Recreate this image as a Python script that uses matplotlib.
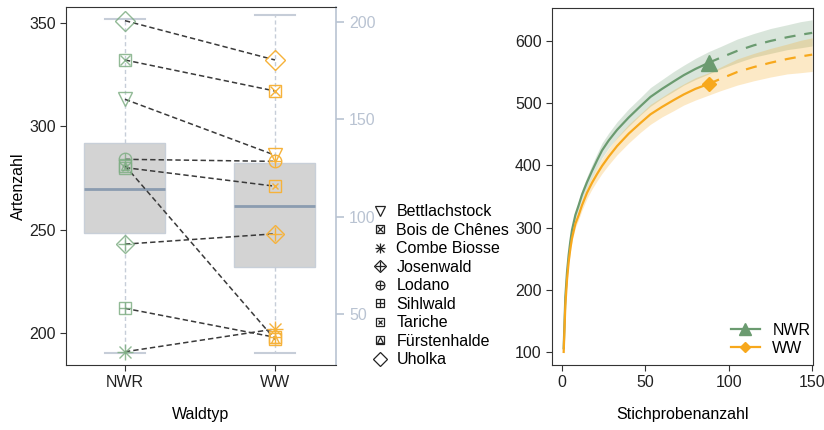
import matplotlib
matplotlib.use("Agg")
import matplotlib.pyplot as plt
from matplotlib.lines import Line2D
import numpy as np

plt.rcParams['font.family'] = ['Liberation Sans', 'DejaVu Sans']

# ---------------- data ----------------
sites = ["Bettlachstock", "Bois de Chênes", "Combe Biosse", "Josenwald", "Lodano",
         "Sihlwald", "Tariche", "Fürstenhalde", "Uholka"]
nwr_vals = [313, 332, 191, 243, 284, 212, 280, 281, 351]
ww_vals = [286, 317, 202, 248, 283, 198, 271, 197, 332]
groups = ["NWR", "WW"]

# boxplot stats (secondary axis)
box_q1 = [91.7, 74.2]
box_med = [114.3, 105.5]
box_q3 = [137.9, 127.6]
box_lo = [30, 30]
box_hi = [201.5, 203.6]

# rarefaction / extrapolation
obs_x = [1, 2, 3, 4, 5, 6, 8, 10, 12, 15, 18, 21, 24, 28, 33, 40, 47, 53, 60, 67, 73, 80, 88]
nwr_obs = [106, 188, 228, 256, 278, 296, 320, 336, 353, 373, 391, 408, 424, 440, 457, 477,
           495, 510, 523, 535, 545, 555, 565]
ww_obs = [100, 175, 216, 245, 266, 283, 306, 320, 336, 356, 372, 386, 399, 414, 431, 451,
          468, 482, 494, 505, 514, 523, 531]
nwr_obs_hw = [2, 3, 4, 4, 5, 5, 6, 7, 8, 9, 10, 11, 12, 12, 13, 14, 14, 15, 15, 16, 16, 17, 18]
ww_obs_hw = [2, 3, 4, 4, 5, 5, 6, 7, 8, 9, 10, 11, 12, 13, 14, 15, 15, 16, 16, 17, 17, 18, 18]

ext_x = [88, 95, 105, 115, 125, 135, 143, 150]
nwr_ext = [565, 573, 584, 593, 600, 606, 610, 613]
ww_ext = [531, 539, 550, 558, 565, 571, 575, 578]
nwr_ext_hw = [18, 18, 19, 19, 20, 20, 21, 21]
ww_ext_hw = [18, 19, 21, 22, 23, 24, 26, 27]

# ---------------- styles ----------------
GREEN = "#6b9b70"
GREEN_L = "#7fae84"
ORANGE = "#f7a81c"
ORANGE_L = "#f6b23a"
AXBLUE = "#b9c3d2"
FS = 11.5

mk = {
    "Bettlachstock": [("v", 10)],
    "Bois de Chênes": [("s", 9), ("x", 7)],
    "Combe Biosse": [("+", 11), ("x", 8)],
    "Josenwald": [("D", 9), ("+", 10)],
    "Lodano": [("o", 9), ("+", 9)],
    "Sihlwald": [("s", 9), ("+", 9)],
    "Tariche": [("s", 9), ("x", 5)],
    "Fürstenhalde": [("s", 9), ("^", 6)],
    "Uholka": [("D", 10)],
}

fig = plt.figure(figsize=(8.24, 4.3), dpi=100)

# ---------------- left panel ----------------
ax = fig.add_axes([66/824, 1-365/430, 270/824, 358/430])
ax2 = ax.twinx()
ax.set_zorder(ax2.get_zorder() + 1)
ax.patch.set_visible(False)

stats = []
for i in range(2):
    stats.append(dict(med=box_med[i], q1=box_q1[i], q3=box_q3[i],
                      whislo=box_lo[i], whishi=box_hi[i], fliers=[]))
ax2.bxp(stats, positions=[1, 2], widths=0.54, patch_artist=True, capwidths=0.27,
        boxprops=dict(facecolor="#d3d3d3", edgecolor="#c8cfd8", linewidth=1),
        medianprops=dict(color="#8b9cb0", linewidth=2),
        whiskerprops=dict(color="#c6cdd8", linestyle=(0, (3, 2)), linewidth=1),
        capprops=dict(color="#c6cdd8", linewidth=1.5))
ax2.set_ylim(23.9, 207.5)
ax2.set_yticks([50, 100, 150, 200])
ax2.tick_params(axis="y", colors=AXBLUE, labelsize=FS, length=6, width=1.2)
ax2.spines["right"].set_color(AXBLUE)
ax2.spines["right"].set_linewidth(1.2)
for s in ["left", "top", "bottom"]:
    ax2.spines[s].set_visible(False)

for i, site in enumerate(sites):
    ax.plot([1, 2], [nwr_vals[i], ww_vals[i]], color="#3a3a3a", lw=1.1,
            dashes=(3.5, 2), zorder=2)
    for (m, ms) in mk[site]:
        ax.plot([1], [nwr_vals[i]], linestyle="none", marker=m, markersize=ms,
                markerfacecolor="none", markeredgecolor=GREEN_L, markeredgewidth=1.0,
                alpha=0.85, zorder=3)
        ax.plot([2], [ww_vals[i]], linestyle="none", marker=m, markersize=ms,
                markerfacecolor="none", markeredgecolor=ORANGE_L, markeredgewidth=1.0,
                zorder=3)

ax.set_xlim(0.607, 2.407)
ax.set_ylim(184.6, 357.6)
ax.set_xticks([1, 2])
ax.set_xticklabels(groups)
ax.set_yticks([200, 250, 300, 350])
ax.tick_params(labelsize=FS, length=4, colors="#333333", labelcolor="#222222")
ax.set_xlabel("Waldtyp", fontsize=FS, labelpad=12)
ax.set_ylabel("Artenzahl", fontsize=FS, labelpad=2)
for s in ["left", "top", "bottom"]:
    ax.spines[s].set_color("#333333")
ax.spines["right"].set_visible(False)

handles = []
for site in sites:
    h = tuple(Line2D([], [], linestyle="none", marker=m, markersize=ms*0.7,
                     markerfacecolor="none", markeredgecolor="#222222",
                     markeredgewidth=0.9) for (m, ms) in mk[site])
    handles.append(h)
fig.legend(handles, sites, loc="upper left", bbox_to_anchor=(366/824, 1-198/430),
           frameon=False, fontsize=FS, handlelength=1.0, handletextpad=0.5,
           labelspacing=0.22, borderaxespad=0)

# ---------------- right panel ----------------
bx = fig.add_axes([552/824, 1-365/430, 261/824, 357/430])
no = np.array(nwr_obs); wo = np.array(ww_obs)
ne = np.array(nwr_ext); we = np.array(ww_ext)
bx.fill_between(obs_x, no - np.array(nwr_obs_hw), no + np.array(nwr_obs_hw),
                color=GREEN, alpha=0.25, lw=0)
bx.fill_between(ext_x, ne - np.array(nwr_ext_hw), ne + np.array(nwr_ext_hw),
                color=GREEN, alpha=0.25, lw=0)
bx.fill_between(obs_x, wo - np.array(ww_obs_hw), wo + np.array(ww_obs_hw),
                color=ORANGE, alpha=0.25, lw=0)
bx.fill_between(ext_x, we - np.array(ww_ext_hw), we + np.array(ww_ext_hw),
                color=ORANGE, alpha=0.25, lw=0)
bx.plot(obs_x, nwr_obs, color=GREEN, lw=1.6)
bx.plot(ext_x, nwr_ext, color=GREEN, lw=1.6, dashes=(5, 4))
bx.plot(obs_x, ww_obs, color=ORANGE, lw=1.6)
bx.plot(ext_x, ww_ext, color=ORANGE, lw=1.6, dashes=(5, 4))
bx.plot([obs_x[-1]], [nwr_obs[-1]], marker="^", markersize=11, color=GREEN, linestyle="none")
bx.plot([obs_x[-1]], [ww_obs[-1]], marker="D", markersize=7, color=ORANGE, linestyle="none")

bx.set_xlim(-6, 150.5)
bx.set_ylim(79, 653)
bx.set_xticks([0, 50, 100, 150])
bx.set_yticks([100, 200, 300, 400, 500, 600])
bx.tick_params(labelsize=FS, length=4, colors="#333333", labelcolor="#222222")
bx.set_xlabel("Stichprobenanzahl", fontsize=FS, labelpad=12)
for s in bx.spines.values():
    s.set_color("#333333")

lh = [Line2D([], [], color=GREEN, lw=1.6, marker="^", markersize=9),
      Line2D([], [], color=ORANGE, lw=1.6, marker="D", markersize=5)]
bx.legend(lh, groups, loc="lower right", bbox_to_anchor=(1.045, -0.015), frameon=False,
          fontsize=FS, handlelength=1.8, handletextpad=0.8, labelspacing=0.2)

fig.savefig("out.png", dpi=100)
